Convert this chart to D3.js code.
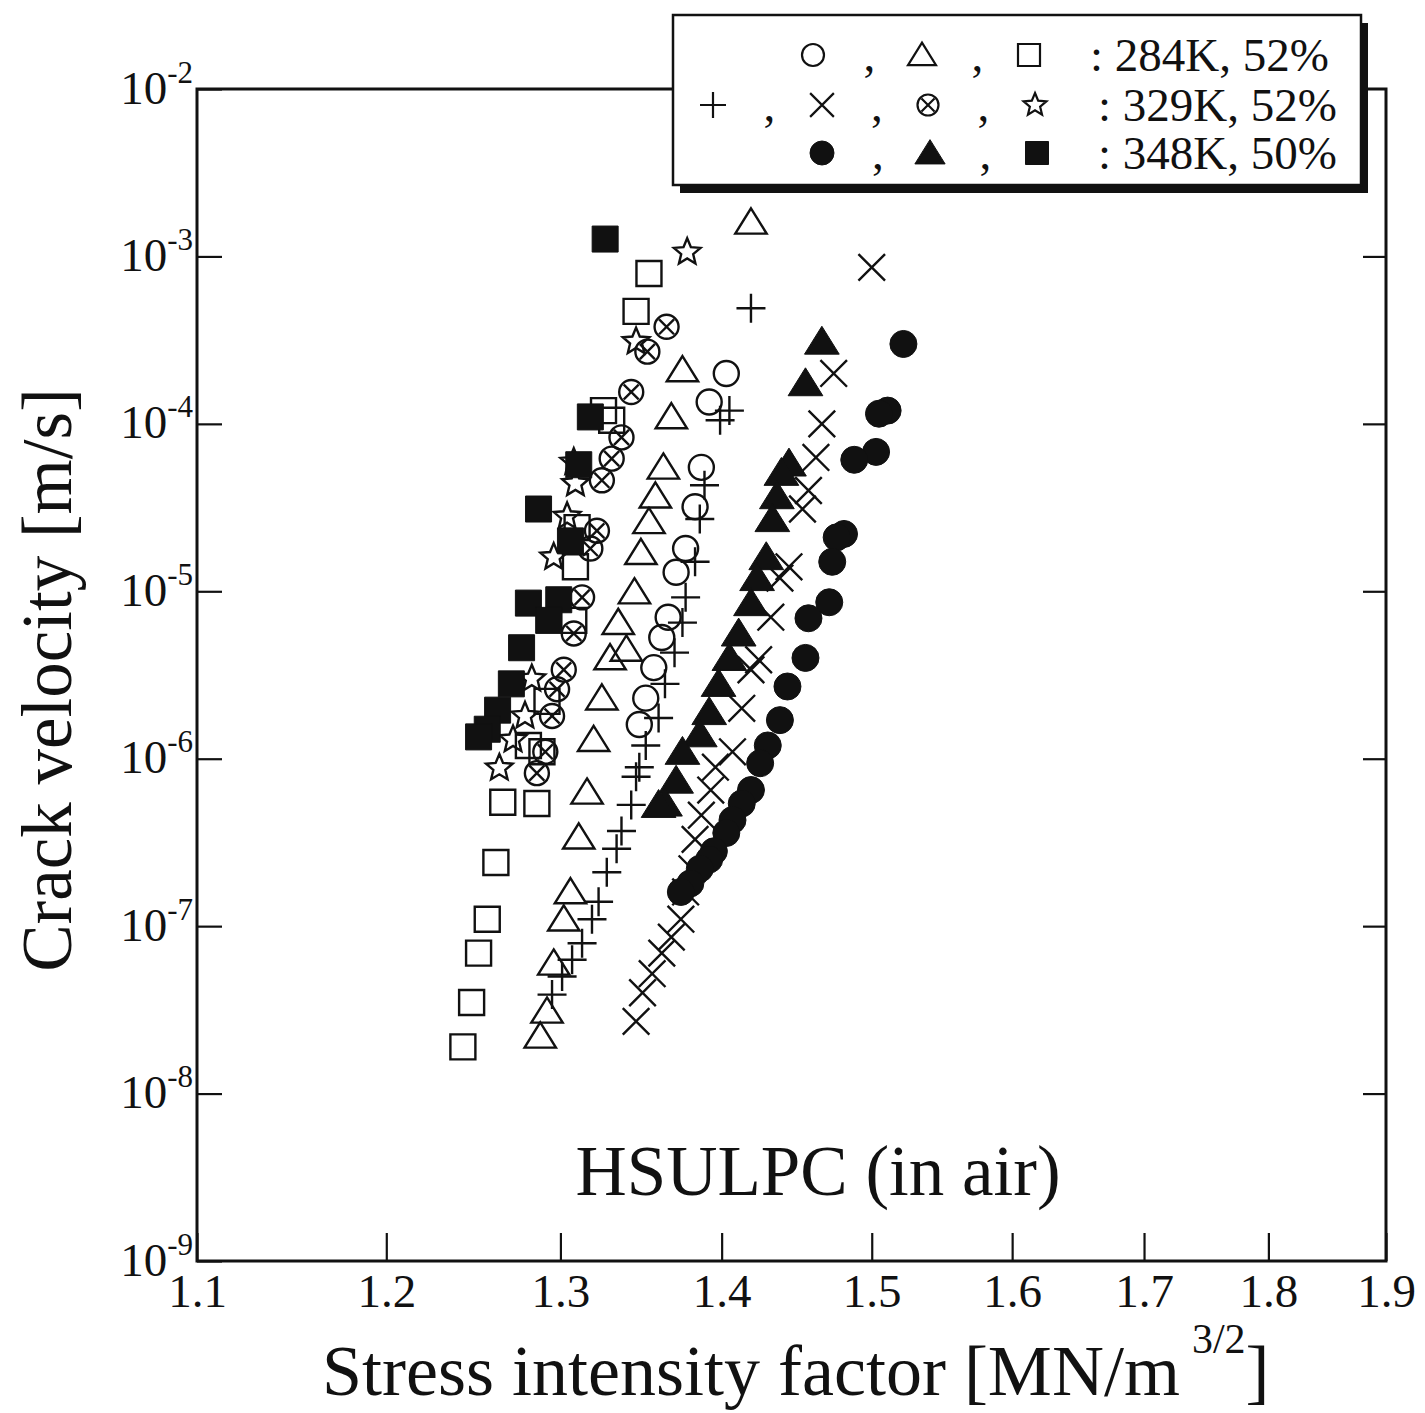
<!DOCTYPE html>
<html>
<head>
<meta charset="utf-8">
<script src="https://cdn.jsdelivr.net/npm/d3@7"></script>
<style>
    body { margin: 0; background: #fff; }
    svg text { font-family: "Liberation Serif", "Times New Roman", serif; fill: #111; }
</style>
</head>
<body>
<div id="chart"></div>
<script>
//************************* Data (K in MN/m^3/2, crack velocity in m/s)

// 284K, 52%
const circleOpen284 = [[1.403, 2.0e-4], [1.392, 1.35e-4], [1.387, 5.5e-5], [1.383, 3.2e-5], [1.377, 1.8e-5], [1.371, 1.3e-5], [1.366, 7.0e-6], [1.362, 5.3e-6], [1.357, 3.5e-6], [1.352, 2.3e-6], [1.348, 1.6e-6]]
const triangleOpen284 = [[1.419, 1.6e-3], [1.375, 2.1e-4], [1.368, 1.1e-4], [1.363, 5.5e-5], [1.358, 3.7e-5], [1.354, 2.6e-5], [1.349, 1.7e-5], [1.345, 9.9e-6], [1.335, 6.5e-6], [1.340, 4.5e-6], [1.330, 4.0e-6], [1.325, 2.3e-6], [1.320, 1.3e-6], [1.316, 6.3e-7], [1.311, 3.4e-7], [1.306, 1.6e-7], [1.302, 1.1e-7], [1.296, 6.0e-8], [1.292, 3.1e-8], [1.288, 2.2e-8]]
const squareOpen284 = [[1.354, 7.9e-4], [1.346, 4.7e-4], [1.326, 1.2e-4], [1.331, 1.05e-4], [1.310, 2.4e-5], [1.309, 1.4e-5], [1.308, 6.7e-6], [1.292, 2.2e-6], [1.281, 1.2e-6], [1.289, 1.1e-6], [1.266, 5.5e-7], [1.286, 5.4e-7], [1.262, 2.4e-7], [1.257, 1.1e-7], [1.252, 6.9e-8], [1.248, 3.5e-8], [1.243, 1.9e-8]]

// 329K, 52%
const plus329 = [[1.419, 4.9e-4], [1.405, 1.2e-4], [1.399, 1.05e-4], [1.389, 4.3e-5], [1.386, 2.7e-5], [1.383, 1.5e-5], [1.377, 9.2e-6], [1.375, 6.5e-6], [1.370, 4.3e-6], [1.364, 2.8e-6], [1.360, 1.75e-6], [1.352, 1.2e-6], [1.348, 8.9e-7], [1.346, 7.8e-7], [1.343, 5.3e-7], [1.337, 3.7e-7], [1.334, 2.9e-7], [1.328, 2.1e-7], [1.323, 1.4e-7], [1.319, 1.1e-7], [1.313, 7.9e-8], [1.307, 6.3e-8], [1.301, 5.0e-8], [1.295, 3.9e-8]]
const cross329 = [[1.500, 8.6e-4], [1.474, 2.0e-4], [1.466, 1.0e-4], [1.462, 6.3e-5], [1.457, 4.0e-5], [1.453, 3.1e-5], [1.444, 1.4e-5], [1.438, 1.2e-5], [1.432, 7.0e-6], [1.424, 3.9e-6], [1.419, 3.4e-6], [1.413, 2.0e-6], [1.407, 1.1e-6], [1.396, 8.9e-7], [1.393, 6.5e-7], [1.387, 4.6e-7], [1.383, 3.3e-7], [1.381, 2.2e-7], [1.377, 1.6e-7], [1.374, 1.1e-7], [1.368, 8.6e-8], [1.362, 6.9e-8], [1.356, 5.2e-8], [1.350, 4.0e-8], [1.346, 2.7e-8]]
const circleX329 = [[1.365, 3.8e-4], [1.353, 2.7e-4], [1.343, 1.55e-4], [1.337, 8.3e-5], [1.331, 6.2e-5], [1.325, 4.6e-5], [1.322, 2.3e-5], [1.318, 1.8e-5], [1.313, 9.2e-6], [1.308, 5.6e-6], [1.302, 3.4e-6], [1.298, 2.6e-6], [1.295, 1.8e-6], [1.291, 1.1e-6], [1.286, 8.2e-7]]
const star329 = [[1.378, 1.06e-3], [1.346, 3.1e-4], [1.308, 5.9e-5], [1.309, 4.4e-5], [1.304, 2.8e-5], [1.296, 1.6e-5], [1.283, 3.0e-6], [1.279, 1.8e-6], [1.272, 1.3e-6], [1.264, 8.8e-7]]

// 348K, 50%
const circleFill348 = [[1.522, 3.0e-4], [1.511, 1.2e-4], [1.505, 1.15e-4], [1.503, 6.8e-5], [1.488, 6.1e-5], [1.481, 2.2e-5], [1.476, 2.1e-5], [1.473, 1.5e-5], [1.471, 8.6e-6], [1.457, 6.9e-6], [1.455, 4.0e-6], [1.443, 2.7e-6], [1.438, 1.7e-6], [1.430, 1.2e-6], [1.425, 9.4e-7], [1.419, 6.5e-7], [1.413, 5.4e-7], [1.407, 4.3e-7], [1.403, 3.6e-7], [1.395, 2.8e-7], [1.392, 2.5e-7], [1.386, 2.2e-7], [1.380, 1.8e-7], [1.374, 1.6e-7]]
const triangleFill348 = [[1.466, 3.1e-4], [1.455, 1.75e-4], [1.444, 5.8e-5], [1.439, 5.1e-5], [1.436, 3.7e-5], [1.433, 2.7e-5], [1.429, 1.6e-5], [1.423, 1.2e-5], [1.419, 8.5e-6], [1.411, 5.6e-6], [1.405, 4.0e-6], [1.398, 2.8e-6], [1.392, 1.9e-6], [1.386, 1.4e-6], [1.375, 1.1e-6], [1.371, 7.4e-7], [1.364, 5.4e-7], [1.360, 5.3e-7]]
const squareFill348 = [[1.327, 1.27e-3], [1.318, 1.1e-4], [1.311, 5.7e-5], [1.287, 3.1e-5], [1.306, 2.0e-5], [1.299, 8.9e-6], [1.281, 8.5e-6], [1.293, 6.7e-6], [1.277, 4.6e-6], [1.271, 2.8e-6], [1.263, 1.95e-6], [1.257, 1.5e-6], [1.252, 1.35e-6]]

// ticks + legend labels
const xTicks = [1.1, 1.2, 1.3, 1.4, 1.5, 1.6, 1.7, 1.8, 1.9]
const yTicks = [1e-9, 1e-8, 1e-7, 1e-6, 1e-5, 1e-4, 1e-3, 1e-2]
const legendLabels = [": 284K, 52%", ": 329K, 52%", ": 348K, 50%"]

//************************* Dimensions

const dims = {
    width: 1425,
    height: 1413,
    plot: { left: 197, right: 1386, top: 89, bottom: 1261 }
}

const svg = d3.select("#chart")
    .append("svg")
    .attr("width", dims.width)
    .attr("height", dims.height)

const xScale = d3.scaleLog()
    .domain([1.1, 1.9])
    .range([dims.plot.left, dims.plot.right])

const yScale = d3.scaleLog()
    .domain([1e-9, 1e-2])
    .range([dims.plot.bottom, dims.plot.top])

//************************* Symbols

function symbolPath(type, s) {
    const r = s / 2
    const circ = rr => `M${rr},0A${rr},${rr} 0 1,1 ${-rr},0A${rr},${rr} 0 1,1 ${rr},0Z`
    switch (type) {
        case "circle": return circ(r)
        case "square": return `M${-r},${-r}H${r}V${r}H${-r}Z`
        case "triangle": {
            const w = s * 0.56, h = s * 0.9
            return `M0,${-h * 0.55}L${w},${h * 0.45}L${-w},${h * 0.45}Z`
        }
        case "plus": return `M${-r},0H${r}M0,${-r}V${r}`
        case "x": {
            const a = r * 0.95
            return `M${-a},${-a}L${a},${a}M${-a},${a}L${a},${-a}`
        }
        case "circlex": {
            const a = r * 0.62
            return circ(r) + `M${-a},${-a}L${a},${a}M${-a},${a}L${a},${-a}`
        }
        case "star": {
            let p = ""
            for (let i = 0; i < 10; i++) {
                const ang = -Math.PI / 2 + i * Math.PI / 5
                const rad = i % 2 ? r * 0.45 : r
                p += (i ? "L" : "M") + (rad * Math.cos(ang)).toFixed(2) + "," + (rad * Math.sin(ang)).toFixed(2)
            }
            return p + "Z"
        }
    }
}

const series = [
    { data: squareOpen284, type: "square", size: 25, filled: false },
    { data: triangleOpen284, type: "triangle", size: 28, filled: false },
    { data: circleOpen284, type: "circle", size: 25, filled: false },
    { data: plus329, type: "plus", size: 29, filled: false },
    { data: cross329, type: "x", size: 28, filled: false },
    { data: circleX329, type: "circlex", size: 24, filled: false },
    { data: star329, type: "star", size: 28, filled: false },
    { data: circleFill348, type: "circle", size: 27, filled: true },
    { data: triangleFill348, type: "triangle", size: 31, filled: true },
    { data: squareFill348, type: "square", size: 26, filled: true }
]

//************************* Axes + frame

const xAxis = svg.append("g")
    .attr("transform", `translate(0,${dims.plot.bottom})`)
    .call(d3.axisBottom(xScale)
        .tickValues(xTicks)
        .tickFormat(d3.format(".1f"))
        .tickSizeInner(-28)
        .tickSizeOuter(0)
        .tickPadding(13))
xAxis.select(".domain").remove()
xAxis.attr("font-size", 47).attr("font-family", null)
xAxis.selectAll("line").attr("stroke", "#111").attr("stroke-width", 2.2)

const yAxis = svg.append("g")
    .attr("transform", `translate(${dims.plot.left},0)`)
    .call(d3.axisLeft(yScale)
        .tickValues(yTicks)
        .tickFormat(() => "")
        .tickSizeInner(-25)
        .tickSizeOuter(0)
        .tickPadding(4))
yAxis.select(".domain").remove()
yAxis.attr("font-size", 47).attr("font-family", null)
yAxis.selectAll("line").attr("stroke", "#111").attr("stroke-width", 2.2)
yAxis.selectAll(".tick text").each(function (d) {
    const t = d3.select(this)
    t.attr("dy", "0.3em")
    t.append("tspan").text("10")
    t.append("tspan")
        .attr("dy", -21)
        .attr("font-size", 31)
        .text(String(Math.round(Math.log10(d))))
})

const yAxisRight = svg.append("g")
    .attr("transform", `translate(${dims.plot.right},0)`)
    .call(d3.axisRight(yScale)
        .tickValues(yTicks.slice(1, -1))
        .tickFormat(() => "")
        .tickSizeInner(-23)
        .tickSizeOuter(0))
yAxisRight.select(".domain").remove()
yAxisRight.selectAll("line").attr("stroke", "#111").attr("stroke-width", 2.2)

svg.append("rect")
    .attr("x", dims.plot.left)
    .attr("y", dims.plot.top)
    .attr("width", dims.plot.right - dims.plot.left)
    .attr("height", dims.plot.bottom - dims.plot.top)
    .attr("fill", "none")
    .attr("stroke", "#111")
    .attr("stroke-width", 3)

//************************* Points

const pointsGroup = svg.append("g")
series.forEach(s => {
    pointsGroup.append("g")
        .selectAll("path")
        .data(s.data)
        .join("path")
        .attr("transform", d => `translate(${xScale(d[0])},${yScale(d[1])})`)
        .attr("d", symbolPath(s.type, s.size))
        .attr("fill", s.filled ? "#111" : "none")
        .attr("stroke", "#111")
        .attr("stroke-width", s.filled ? 1 : 2.4)
})

//************************* Labels

svg.append("text")
    .attr("transform", "translate(71,680) rotate(-90)")
    .attr("text-anchor", "middle")
    .attr("font-size", 71)
    .text("Crack velocity [m/s]")

const xTitle = svg.append("text")
    .attr("x", 322)
    .attr("y", 1395)
    .attr("font-size", 72)
xTitle.append("tspan").text("Stress intensity factor [MN/m")
xTitle.append("tspan").attr("dx", 12).attr("dy", -42).attr("font-size", 42).text("3/2")
xTitle.append("tspan").attr("dy", 42).text("]")

svg.append("text")
    .attr("x", 818)
    .attr("y", 1195)
    .attr("text-anchor", "middle")
    .attr("font-size", 71)
    .text("HSULPC (in air)")

//************************* Legend

const legend = svg.append("g")
legend.append("rect")
    .attr("x", 680).attr("y", 23)
    .attr("width", 688).attr("height", 170)
    .attr("fill", "#111")
legend.append("rect")
    .attr("x", 673).attr("y", 15)
    .attr("width", 688).attr("height", 170)
    .attr("fill", "#fff")
    .attr("stroke", "#111")
    .attr("stroke-width", 2.5)

const legendRows = [
    { y: 55, items: [["circle", false, 813, 22], ["triangle", false, 922, 25], ["square", false, 1029, 22]], label: legendLabels[0], tx: 1090 },
    { y: 105, items: [["plus", false, 713, 26], ["x", false, 822, 25], ["circlex", false, 928, 21], ["star", false, 1035, 24]], label: legendLabels[1], tx: 1098 },
    { y: 153, items: [["circle", true, 822, 24], ["triangle", true, 930, 27], ["square", true, 1037, 23]], label: legendLabels[2], tx: 1098 }
]

legendRows.forEach(row => {
    row.items.forEach((it, i) => {
        legend.append("path")
            .attr("transform", `translate(${it[2]},${row.y})`)
            .attr("d", symbolPath(it[0], it[3]))
            .attr("fill", it[1] ? "#111" : "none")
            .attr("stroke", "#111")
            .attr("stroke-width", it[1] ? 1 : 2.2)
        if (i < row.items.length - 1) {
            legend.append("text")
                .attr("x", (it[2] + row.items[i + 1][2]) / 2 - 4)
                .attr("y", row.y + 16)
                .attr("font-size", 47)
                .text(",")
        }
    })
    legend.append("text")
        .attr("x", row.tx)
        .attr("y", row.y + 16)
        .attr("font-size", 47)
        .text(row.label)
})
</script>
</body>
</html>
